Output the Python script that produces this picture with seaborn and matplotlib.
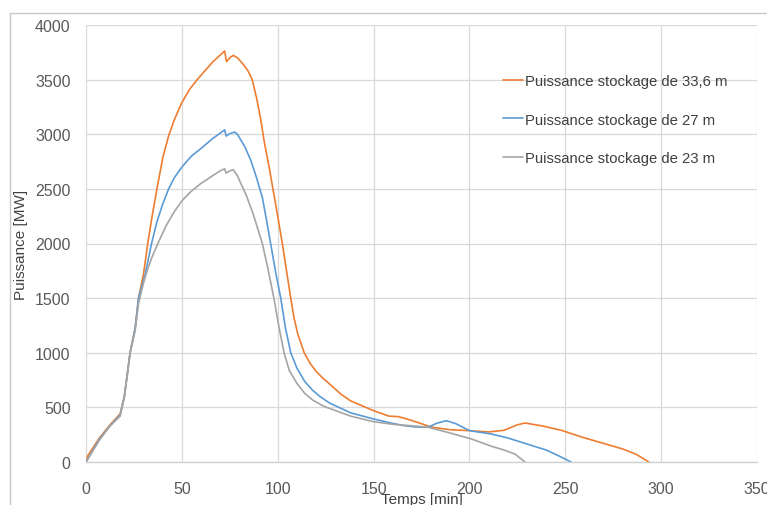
import matplotlib
matplotlib.use("Agg")
import matplotlib.pyplot as plt
import seaborn as sns
import pandas as pd
from matplotlib.lines import Line2D

# ---------------- data ----------------
labels = ["Puissance stockage de 33,6 m",
          "Puissance stockage de 27 m",
          "Puissance stockage de 23 m"]

t_336 = [0, 1, 7, 12.5, 17.8, 20, 23, 25.6, 27.4, 30, 32.2, 34.5, 37, 40, 43, 46, 50, 54,
         58, 62, 66, 70, 72.3, 73.3, 75, 76.8, 79, 82, 84.5, 86.7, 89, 91, 93, 95.5, 97.5,
         100, 102.4, 104.5, 106.8, 108.5, 110.5, 113.8, 117, 120, 124, 128, 133, 138, 150,
         158, 163, 170, 180, 190, 200, 210, 218, 225, 229, 238, 248, 259, 270, 280, 287,
         293.6]
p_336 = [0, 60, 220, 340, 440, 600, 1000, 1220, 1500, 1720, 2000, 2250, 2500, 2780, 2980,
         3130, 3290, 3410, 3500, 3580, 3660, 3725, 3762, 3665, 3700, 3722, 3700, 3640, 3580,
         3500, 3330, 3150, 2930, 2700, 2500, 2250, 2000, 1760, 1500, 1320, 1170, 1000, 900,
         830, 760, 700, 620, 560, 470, 420, 415, 380, 320, 295, 287, 275, 290, 340, 357, 330,
         290, 226, 170, 119, 70, 0]

t_27 = [0, 7, 12.5, 17.8, 20, 23, 25.6, 27.4, 30.9, 34.2, 37, 40, 43.1, 46, 50, 55, 60, 66,
        70, 72.3, 73.1, 75, 77.5, 79, 83, 86, 89, 92, 94, 96.3, 99, 101.6, 104, 106.8, 110,
        114, 118, 122, 127, 138, 150, 157.5, 165, 172, 178.4, 183, 188, 193, 200, 211.5,
        220, 232.5, 240, 246.4, 253]
p_27 = [0, 210, 330, 430, 600, 1000, 1220, 1500, 1720, 2000, 2200, 2360, 2500, 2600, 2700,
        2800, 2870, 2960, 3010, 3041, 2983, 3005, 3020, 3000, 2880, 2760, 2600, 2420, 2230,
        2000, 1730, 1500, 1230, 1000, 860, 740, 660, 600, 540, 450, 394, 363, 335, 320, 318,
        355, 378, 350, 287, 256, 220, 151, 110, 58, 0]

t_23 = [0, 7, 12.5, 17.8, 20, 23, 25.6, 27.4, 30, 32.6, 35, 38, 42, 46, 50, 55, 60, 66, 70,
        72.3, 73.1, 75, 76.8, 79, 81, 83.4, 87, 92, 95, 98, 100.5, 103.3, 106, 110, 114, 118,
        124, 138, 150, 160, 169.6, 178.4, 190, 201, 211.5, 218, 223.7, 229]
p_23 = [0, 200, 330, 420, 590, 1000, 1200, 1450, 1640, 1790, 1900, 2020, 2170, 2290, 2390,
        2480, 2550, 2620, 2665, 2684, 2645, 2665, 2675, 2620, 2540, 2450, 2280, 2000, 1760,
        1500, 1250, 1000, 840, 720, 630, 570, 510, 420, 369, 345, 332, 318, 265, 211, 144,
        110, 73, 0]

x_ticks = [0, 50, 100, 150, 200, 250, 300, 350]
y_ticks = [0, 500, 1000, 1500, 2000, 2500, 3000, 3500, 4000]

colors = ["#ED7D31", "#5B9BD5", "#A5A5A5"]

df = pd.concat([
    pd.DataFrame({"t": t_336, "p": p_336, "serie": labels[0]}),
    pd.DataFrame({"t": t_27, "p": p_27, "serie": labels[1]}),
    pd.DataFrame({"t": t_23, "p": p_23, "serie": labels[2]}),
], ignore_index=True)

# ---------------- figure ----------------
sns.set_theme(style="white")
plt.rcParams["font.family"] = ["Liberation Sans", "DejaVu Sans"]

W, H = 767, 506
fig = plt.figure(figsize=(W / 100, H / 100), dpi=100)
L, R, T, B = 86, 757, 26, 463
ax = fig.add_axes([L / W, 1 - B / H, (R - L) / W, (B - T) / H])

sns.lineplot(data=df, x="t", y="p", hue="serie", palette=colors, sort=False,
             estimator=None, linewidth=1.2, ax=ax, hue_order=labels)

ax.set_xlim(0, 350)
ax.set_ylim(0, 4000)
ax.set_xticks(x_ticks)
ax.set_yticks(y_ticks)
ax.grid(True, color="#d9d9d9", linewidth=0.9)
ax.set_axisbelow(True)
for s in ["top", "right", "left"]:
    ax.spines[s].set_visible(False)
ax.spines["bottom"].set_color("#d0d0d0")
ax.spines["bottom"].set_linewidth(1.0)
ax.tick_params(axis="both", length=0, labelsize=11.5, labelcolor="#595959")
ax.tick_params(axis="x", pad=14)
ax.tick_params(axis="y", pad=11)

ax.set_xlabel("Temps [min]", fontsize=11, color="#404040")
ax.set_ylabel("Puissance [MW]", fontsize=11, color="#404040")
ax.xaxis.set_label_coords(0.5, (B - 493) / (B - T))
ax.yaxis.set_label_coords((28 - L) / (R - L), 0.5)

leg = ax.legend(loc="upper left", bbox_to_anchor=(503 / W, 1 - 75 / H),
                bbox_transform=fig.transFigure, frameon=False, fontsize=10.7,
                handlelength=1.35, handletextpad=0.15, labelspacing=1.65,
                borderpad=0, borderaxespad=0)
for txt in leg.get_texts():
    txt.set_color("#404040")
for h in leg.get_lines():
    h.set_linewidth(1.2)

# chart area border (top and left)
fig.add_artist(Line2D([10 / W, 1], [1 - 14 / H, 1 - 14 / H], transform=fig.transFigure,
                      color="#c8c8c8", linewidth=1.0))
fig.add_artist(Line2D([10 / W, 10 / W], [0, 1 - 14 / H], transform=fig.transFigure,
                      color="#c8c8c8", linewidth=1.0))

fig.savefig("out.png", dpi=100)
